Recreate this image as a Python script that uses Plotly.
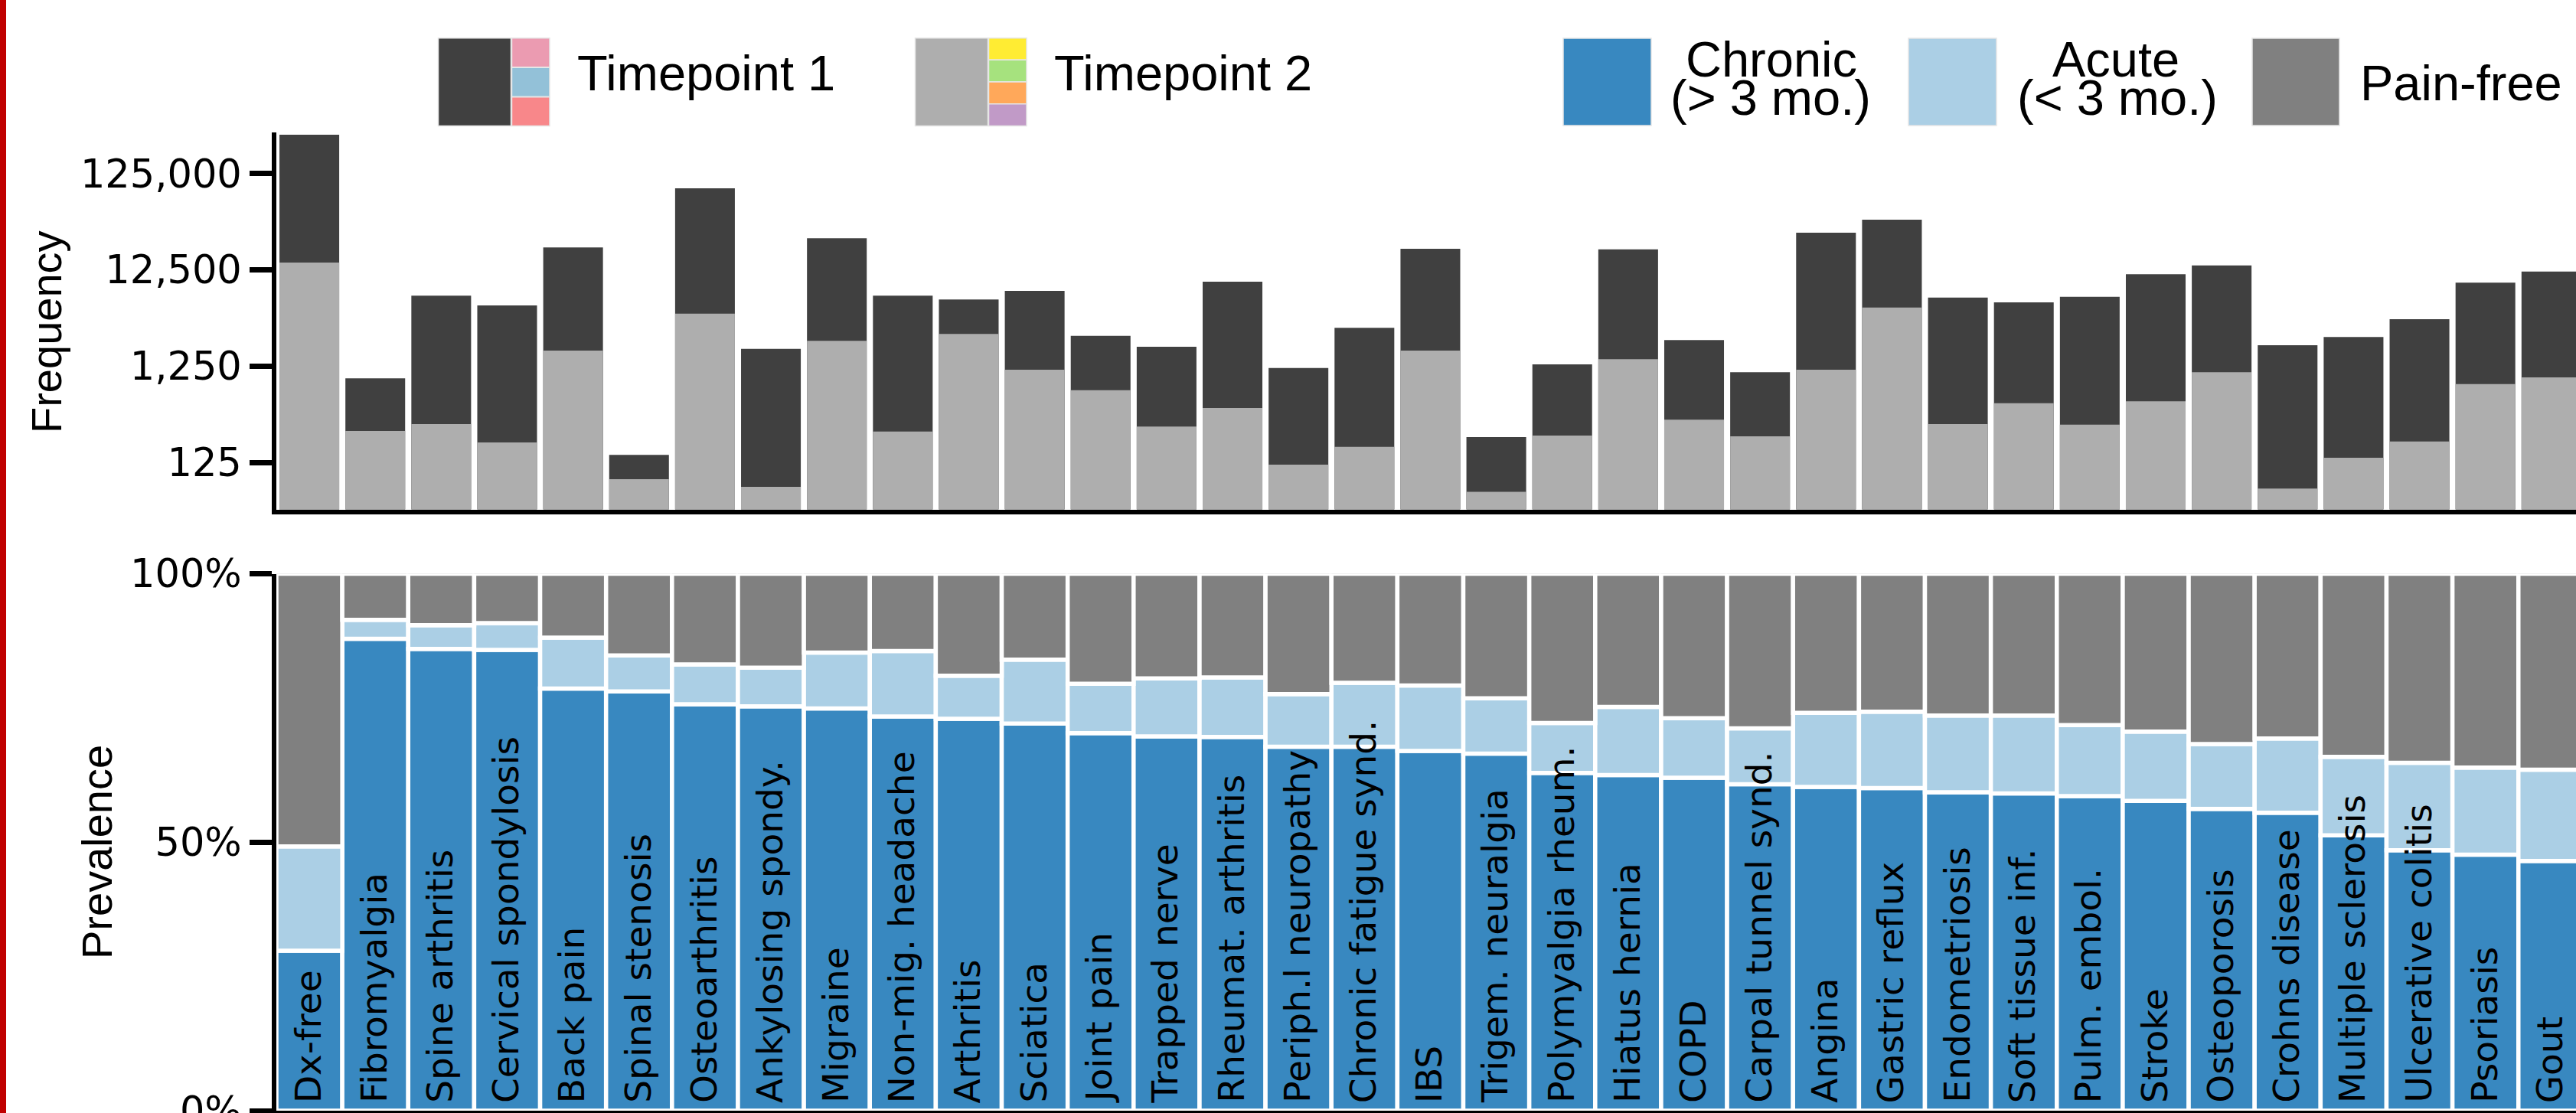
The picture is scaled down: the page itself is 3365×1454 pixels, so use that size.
import plotly.graph_objects as go

# ---------------- data ----------------
categories = ["Dx-free", "Fibromyalgia", "Spine arthritis", "Cervical spondylosis", "Back pain",
              "Spinal stenosis", "Osteoarthritis", "Ankylosing spondy.", "Migraine",
              "Non-mig. headache", "Arthritis", "Sciatica", "Joint pain", "Trapped nerve",
              "Rheumat. arthritis", "Periph.l neuropathy", "Chronic fatigue synd.", "IBS",
              "Trigem. neuralgia", "Polymyalgia rheum.", "Hiatus hernia", "COPD",
              "Carpal tunnel synd.", "Angina", "Gastric reflux", "Endometriosis",
              "Soft tissue inf.", "Pulm. embol.", "Stroke", "Osteoporosis", "Crohns disease",
              "Multiple sclerosis", "Ulcerative colitis", "Psoriasis", "Gout"]

freq_t1 = [317000, 937, 6760, 5340, 21400, 150, 88000, 1890, 26700, 6760, 6180, 7590, 2580,
           1990, 9450, 1200, 3140, 20700, 230, 1310, 20400, 2340, 1085, 30400, 41500, 6450,
           5750, 6560, 11300, 13900, 2070, 2520, 3850, 9230, 12000]
freq_t2 = [14900, 266, 314, 202, 1820, 84, 4390, 70, 2300, 262, 2710, 1150, 704, 296, 461,
           119, 182, 1820, 62, 238, 1480, 349, 234, 1150, 5080, 314, 516, 309, 542, 1085,
           67, 140, 207, 815, 960]

chronic = [29.8, 87.9, 86.0, 85.8, 78.6, 78.1, 75.7, 75.3, 74.9, 73.4, 73.0, 72.1, 70.3, 69.7,
           69.6, 67.8, 67.8, 67.0, 66.5, 62.9, 62.5, 62.0, 60.8, 60.3, 60.1, 59.3, 59.1, 58.6,
           57.7, 56.2, 55.5, 51.3, 48.5, 47.7, 46.5]
acute = [19.4, 3.5, 4.4, 5.0, 9.5, 6.7, 7.4, 7.2, 10.4, 12.2, 8.0, 11.9, 9.2, 10.8, 11.1, 9.8,
         11.9, 12.2, 10.3, 9.3, 12.7, 11.1, 10.4, 13.8, 14.2, 14.3, 14.5, 13.2, 12.9, 12.1,
         13.8, 14.6, 16.3, 16.2, 17.0]
pain_free = [50.8, 8.6, 9.6, 9.2, 11.9, 15.2, 16.9, 17.5, 14.7, 14.4, 19.0, 16.0, 20.5, 19.5,
             19.3, 22.4, 20.3, 20.8, 23.2, 27.8, 24.8, 26.9, 28.8, 25.9, 25.7, 26.4, 26.4,
             28.2, 29.4, 31.7, 30.7, 34.1, 35.2, 36.1, 36.5]

freq_tickvals = [125, 1250, 12500, 125000]
freq_ticktext = ["125", "1,250", "12,500", "125,000"]
prev_tickvals = [0, 50, 100]
prev_ticktext = ["0%", "50%", "100%"]

# ---------------- styling ----------------
W, H = 3365, 1454
C_T1 = "#404040"
C_T2 = "#AEAEAE"
C_CHRONIC = "#3888C0"
C_ACUTE = "#ABCFE5"
C_FREE = "#808080"
TICK_FONT = dict(family="DejaVu Sans", size=51, color="black")
LEG_FONT = dict(family="Liberation Sans", size=65, color="black")
TITLE_FONT = dict(family="Liberation Sans", size=56, color="black")
LABEL_FONT = dict(family="DejaVu Sans", size=47, color="black")


def px_x(p):
    return p / W


def px_y(p):
    return (H - p) / H


base_acute = [c for c in chronic]
base_free = [c + a for c, a in zip(chronic, acute)]

fig = go.Figure()

# Top panel: frequency (overlaid)
fig.add_trace(go.Bar(x=categories, y=freq_t1, width=0.906, marker=dict(color=C_T1, line=dict(width=0)),
                     xaxis="x", yaxis="y", name="Timepoint 1", showlegend=False))
fig.add_trace(go.Bar(x=categories, y=freq_t2, width=0.906, marker=dict(color=C_T2, line=dict(width=0)),
                     xaxis="x", yaxis="y", name="Timepoint 2", showlegend=False))

# Bottom panel: prevalence (stacked via base)
line_w = dict(color="white", width=5.5)
fig.add_trace(go.Bar(x=categories, y=chronic, width=1.0, marker=dict(color=C_CHRONIC, line=line_w),
                     xaxis="x2", yaxis="y2", name="Chronic", showlegend=False))
fig.add_trace(go.Bar(x=categories, y=acute, base=base_acute, width=1.0,
                     marker=dict(color=C_ACUTE, line=line_w),
                     xaxis="x2", yaxis="y2", name="Acute", showlegend=False))
fig.add_trace(go.Bar(x=categories, y=pain_free, base=base_free, width=1.0,
                     marker=dict(color=C_FREE, line=line_w),
                     xaxis="x2", yaxis="y2", name="Pain-free", showlegend=False))

x_domain = [px_x(361), 1.0]
x_range = [-0.5, (W - 361) / 86.14 - 0.5]

axis_common = dict(showline=True, linecolor="black", linewidth=6, showgrid=False, zeroline=False,
                   automargin=False)

fig.update_layout(
    template="none",
    width=W, height=H,
    margin=dict(l=0, r=0, t=0, b=0, pad=0, autoexpand=False),
    paper_bgcolor="white", plot_bgcolor="white",
    barmode="overlay",
    showlegend=False,
    xaxis=dict(domain=x_domain, range=x_range, anchor="y", showticklabels=False, ticks="",
               type="category", **axis_common),
    yaxis=dict(domain=[px_y(665.5), px_y(173)], type="log", range=[1.6105, 5.5245], anchor="x",
               ticks="outside", ticklen=29, tickwidth=7, tickcolor="black",
               tickvals=freq_tickvals, ticktext=freq_ticktext, tickfont=TICK_FONT,
               ticklabeloverflow="allow", **axis_common),
    xaxis2=dict(domain=x_domain, range=x_range, anchor="y2", showticklabels=False, ticks="",
                type="category", matches="x", **axis_common),
    yaxis2=dict(domain=[px_y(1451), px_y(749.5)], range=[0, 100], anchor="x2",
                ticks="outside", ticklen=29, tickwidth=7, tickcolor="black",
                tickvals=prev_tickvals, ticktext=prev_ticktext, tickfont=TICK_FONT,
                ticklabeloverflow="allow", **axis_common),
)

annotations = []
# axis titles
annotations.append(dict(text="Frequency", x=px_x(60), y=px_y(434), xref="paper", yref="paper",
                        textangle=-90, showarrow=False, font=TITLE_FONT,
                        xanchor="center", yanchor="middle"))
annotations.append(dict(text="Prevalence", x=px_x(126), y=px_y(1113), xref="paper", yref="paper",
                        textangle=-90, showarrow=False, font=TITLE_FONT,
                        xanchor="center", yanchor="middle"))

# category labels inside bars
for cat in categories:
    annotations.append(dict(text=cat, x=cat, y=0, xref="x2", yref="y2", textangle=-90,
                            showarrow=False, font=LABEL_FONT, xanchor="center", yanchor="bottom",
                            yshift=8, xshift=-2))

shapes = []
# red border on left
shapes.append(dict(type="rect", xref="paper", yref="paper", x0=0, x1=px_x(8), y0=0, y1=1,
                   fillcolor="#C00000", line=dict(width=0), layer="above"))


def swatch(x0, x1, y0, y1, color):
    shapes.append(dict(type="rect", xref="paper", yref="paper",
                       x0=px_x(x0), x1=px_x(x1), y0=px_y(y1), y1=px_y(y0),
                       fillcolor=color, line=dict(color="#e6e6e6", width=1.5), layer="above"))


# Timepoint 1
swatch(572.5, 667.5, 49.7, 164.6, C_T1)
swatch(668.5, 718, 49.7, 87.8, "#EB9BB1")
swatch(668.5, 718, 88.3, 126.3, "#93C1D8")
swatch(668.5, 718, 126.8, 164.6, "#F8878A")
annotations.append(dict(text="Timepoint 1", x=px_x(752), y=px_y(96), xref="paper", yref="paper",
                        showarrow=False, font=LEG_FONT, xanchor="left", yanchor="middle"))
# Timepoint 2
swatch(1195.5, 1290.5, 49.7, 164.6, C_T2)
swatch(1291.5, 1341, 49.7, 78.2, "#FFEC33")
swatch(1291.5, 1341, 78.2, 107, "#A6E27E")
swatch(1291.5, 1341, 107, 135.8, "#FFA85A")
swatch(1291.5, 1341, 135.8, 164.6, "#C19AC7")
annotations.append(dict(text="Timepoint 2", x=px_x(1375), y=px_y(96), xref="paper", yref="paper",
                        showarrow=False, font=LEG_FONT, xanchor="left", yanchor="middle"))
# Chronic
swatch(2042, 2157, 50, 164, C_CHRONIC)
annotations.append(dict(text="Chronic", x=px_x(2314), y=px_y(77), xref="paper", yref="paper",
                        showarrow=False, font=LEG_FONT, xanchor="center", yanchor="middle"))
annotations.append(dict(text="(> 3 mo.)", x=px_x(2313), y=px_y(128), xref="paper", yref="paper",
                        showarrow=False, font=LEG_FONT, xanchor="center", yanchor="middle"))
# Acute
swatch(2493, 2608, 50, 164, C_ACUTE)
annotations.append(dict(text="Acute", x=px_x(2764), y=px_y(77), xref="paper", yref="paper",
                        showarrow=False, font=LEG_FONT, xanchor="center", yanchor="middle"))
annotations.append(dict(text="(< 3 mo.)", x=px_x(2766), y=px_y(128), xref="paper", yref="paper",
                        showarrow=False, font=LEG_FONT, xanchor="center", yanchor="middle"))
# Pain-free
swatch(2942, 3056, 50, 164, C_FREE)
annotations.append(dict(text="Pain-free", x=px_x(3081), y=px_y(108), xref="paper", yref="paper",
                        showarrow=False, font=LEG_FONT, xanchor="left", yanchor="middle"))

fig.update_layout(annotations=annotations, shapes=shapes)

fig.write_html("out.html", config={"displayModeBar": False},
               post_script="document.body.style.margin='0';document.body.style.overflow='hidden';")
